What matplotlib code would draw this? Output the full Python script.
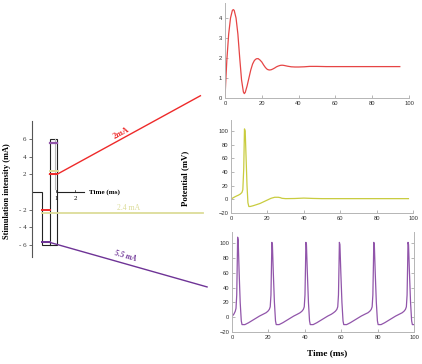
import numpy as np
import matplotlib
matplotlib.use('Agg')
import matplotlib.pyplot as plt

W, H = 422, 364
SERIF = 'Liberation Serif'
SANS = 'Liberation Sans'

# stimulus schematic (time in ms, current in mA)
pulse_t = [-0.26, 0.26, 0.26, 1.05, 1.05, 0.66, 0.66]
pulse_i = [0, 0, -6, -6, 6, 6, -6]
axis_t = [1.05, 2.5]

red_neg_t, red_neg_i = [0.26, 0.66], [-2.0, -2.0]
red_pos_t, red_pos_i = [0.66, 1.05, 8.6], [2.0, 2.0, 10.9]
khaki_neg_t, khaki_neg_i = [0.26, 8.75], [-2.4, -2.4]
khaki_pos_t, khaki_pos_i = [0.66, 1.08], [2.4, 2.4]
purple_neg_t, purple_neg_i = [0.26, 0.66, 8.95], [-5.7, -5.7, -10.75]
purple_pos_t, purple_pos_i = [0.66, 1.05], [5.55, 5.55]

yticks_mA = [6, 4, 2, -2, -4, -6]
ytick_labels = ['6', '4', '2', '- 2', '- 4', '- 6']

# responses
t1 = [0, 0.5, 1, 2, 3, 4, 4.5, 5, 6, 7, 8, 9, 10, 10.5, 11, 12, 13, 14, 15, 16, 17, 18,
      19, 20, 21, 22, 23, 24, 25, 26, 27, 28, 29, 30, 31, 32, 33, 34, 36, 38, 40, 43,
      46, 50, 55, 95]
v1 = [0, 1.0, 1.9, 3.2, 4.0, 4.38, 4.42, 4.38, 4.0, 3.2, 2.0, 0.9, 0.3, 0.22, 0.28, 0.6,
      1.0, 1.4, 1.7, 1.88, 1.96, 1.97, 1.9, 1.8, 1.65, 1.52, 1.43, 1.40, 1.41, 1.45, 1.5,
      1.56, 1.6, 1.63, 1.64, 1.63, 1.61, 1.59, 1.56, 1.55, 1.55, 1.56, 1.58, 1.58, 1.57,
      1.57]

t2 = [0, 1, 2, 3, 4, 5, 6, 6.5, 7, 7.4, 7.8, 8.3, 8.8, 9.3, 9.8, 10.5, 12, 14, 16, 18,
      20, 22, 24, 26, 27, 28, 30, 35, 40, 45, 50, 60, 97.5]
v2 = [0, 2, 3.5, 4.8, 6, 7.5, 10, 14, 45, 103, 100, 60, 20, -5, -10.5, -10.5, -9.5, -7.8,
      -6, -3.5, -1, 1.5, 3, 3, 2.5, 1.5, 1, 1.2, 1.8, 1.3, 1, 1, 1]

t3 = [0, 1.0, 1.8, 2.2, 2.6, 2.9, 3.1, 3.4, 3.9, 4.5, 5.1, 5.5, 7.1, 9.1, 11.1, 13.1,
      15.1, 17.1, 18.7, 19.7, 20.5, 21.0, 21.4, 21.7, 21.9,
      22.2, 22.7, 23.3, 23.9, 24.3, 25.9, 27.9, 29.9, 31.9, 33.9, 35.9, 37.4, 38.4, 39.2,
      39.7, 40.1, 40.4, 40.6,
      40.9, 41.4, 42.0, 42.6, 43.0, 44.6, 46.6, 48.6, 50.6, 52.6, 54.6, 55.8, 56.8, 57.6,
      58.1, 58.5, 58.8, 59.0,
      59.3, 59.8, 60.4, 61.0, 61.4, 63.0, 65.0, 67.0, 69.0, 71.0, 73.0, 74.7, 75.7, 76.5,
      77.0, 77.4, 77.7, 77.9,
      78.2, 78.7, 79.3, 79.9, 80.3, 81.9, 83.9, 85.9, 87.9, 89.9, 91.9, 93.5, 94.5, 95.3,
      95.8, 96.2, 96.5, 96.7,
      97.0, 97.5, 98.1, 98.7, 99.1, 100]
v3 = [1, 4, 8, 12, 30, 75, 108, 104, 62, 20, -5, -10, -10, -7.5, -4.5, -1.5,
      1.5, 4, 6, 8, 10.5, 14, 30, 70, 101,
      98, 60, 20, -5, -10, -10, -7.5, -4.5, -1.5, 1.5, 4, 6, 8, 10.5,
      14, 30, 70, 101,
      98, 60, 20, -5, -10, -10, -7.5, -4.5, -1.5, 1.5, 4, 6, 8, 10.5,
      14, 30, 70, 101,
      98, 60, 20, -5, -10, -10, -7.5, -4.5, -1.5, 1.5, 4, 6, 8, 10.5,
      14, 30, 70, 101,
      98, 60, 20, -5, -10, -10, -7.5, -4.5, -1.5, 1.5, 4, 6, 8, 10.5,
      14, 30, 70, 101,
      98, 60, 20, -5, -10, -10]

RED = '#ee2a2a'
KHAKI = '#dcdc98'
YEL = '#c9cc3f'
PURPLE = '#6e3396'
PURPLE_L = '#9155aa'

fig = plt.figure(figsize=(W / 100, H / 100), dpi=100)


def px_axes(l, t, r, b):
    return fig.add_axes([l / W, 1 - b / H, (r - l) / W, (b - t) / H])


# ---------- stimulus schematic ----------
ax = px_axes(32, 90, 210, 300)
ax.set_xlim(-0.263, 9.105)
ax.set_ylim(-12.23, 11.55)
ax.patch.set_alpha(0)
for s in ['top', 'right']:
    ax.spines[s].set_visible(False)
ax.spines['left'].set_bounds(-7.4, 8.0)
ax.spines['left'].set_color('#555555')
ax.spines['left'].set_linewidth(0.8)
ax.spines['bottom'].set_visible(False)

ax.plot(pulse_t, pulse_i, color='#222222', lw=0.8, solid_joinstyle='miter')
ax.plot(axis_t, [0, 0], color='#222222', lw=0.8)
ax.plot([0.95, 0.95], [0.3, 6], color='#bbbbbb', lw=0.8)

ax.plot(red_neg_t, red_neg_i, color=RED, lw=1.4)
ax.plot(red_pos_t, red_pos_i, color=RED, lw=1.0)
ax.plot(red_pos_t[:2], red_pos_i[:2], color=RED, lw=1.4)
ax.plot(khaki_neg_t, khaki_neg_i, color=KHAKI, lw=1.3)
ax.plot(khaki_pos_t, khaki_pos_i, color=KHAKI, lw=1.4)
ax.plot(purple_neg_t, purple_neg_i, color=PURPLE, lw=1.0)
ax.plot(purple_neg_t[:2], purple_neg_i[:2], color=PURPLE, lw=1.4)
ax.plot(purple_pos_t, purple_pos_i, color=PURPLE_L, lw=1.6)

ax.set_yticks(yticks_mA)
ax.set_yticklabels(ytick_labels, family=SERIF, fontsize=5)
ax.tick_params(axis='y', length=2, width=0.5, pad=2, colors='#333333')
ax.set_xticks([])
for xv in [1, 2]:
    ax.plot([xv, xv], [0, 0.25], color='#222222', lw=0.5)
    ax.text(xv, -0.5, str(xv), ha='center', va='top', fontsize=5, family=SERIF)
ax.text(2.75, 0, 'Time (ms)', ha='left', va='center', fontsize=5, family=SERIF,
        fontweight='semibold')

ax.text(4.55, 6.3, '2mA', color=RED, fontsize=6, family=SERIF, fontweight='bold',
        rotation=28, ha='center', va='bottom', rotation_mode='anchor')
ax.text(4.8, -2.25, '2.4 mA', color=KHAKI, fontsize=5.5, family=SERIF,
        ha='center', va='bottom')
ax.text(4.6, -7.7, '5.5 mA', color=PURPLE, fontsize=5.5, family=SERIF,
        fontweight='bold', style='italic', rotation=-16, ha='center', va='bottom',
        rotation_mode='anchor')


# ---------- response panels ----------
def style_panel(a, right=False):
    for s in ['top', 'right']:
        a.spines[s].set_visible(False)
    if right:
        a.spines['right'].set_visible(True)
    for s in a.spines.values():
        s.set_color('#b5b5b5')
        s.set_linewidth(0.7)
    a.tick_params(direction='in', length=2, width=0.5, color='#999999',
                  labelsize=4.2, labelcolor='#333333', pad=2, right=right,
                  labelright=False)
    for lab in a.get_xticklabels() + a.get_yticklabels():
        lab.set_family(SANS)
    a.set_xlim(0, 100)
    a.set_xticks(range(0, 101, 20))


a1 = px_axes(225, 3, 409, 98)
a1.plot(t1, v1, color='#e64545', lw=0.9)
a1.set_ylim(0, 4.75)
a1.set_yticks(range(0, 5))
style_panel(a1)

a2 = px_axes(231, 120, 413, 213)
a2.plot(t2, v2, color=YEL, lw=0.9)
a2.set_ylim(-20, 116)
a2.set_yticks(range(-20, 101, 20))
style_panel(a2)

a3 = px_axes(232, 232, 414, 332)
a3.plot(t3, v3, color=PURPLE_L, lw=0.9)
a3.set_ylim(-20, 115)
a3.set_yticks(range(-20, 101, 20))
style_panel(a3, right=True)

fig.text(7 / W, 1 - 191 / H, 'Stimulation intensity (mA)', rotation=90, ha='center',
         va='center', fontsize=6, family=SERIF, fontweight='bold')
fig.text(185 / W, 1 - 178 / H, 'Potential (mV)', rotation=90, ha='center',
         va='center', fontsize=6.3, family=SERIF, fontweight='bold')
fig.text(327 / W, 1 - 353 / H, 'Time (ms)', ha='center', va='center', fontsize=6.7,
         family=SERIF, fontweight='bold')

fig.savefig('out.png', dpi=100)
